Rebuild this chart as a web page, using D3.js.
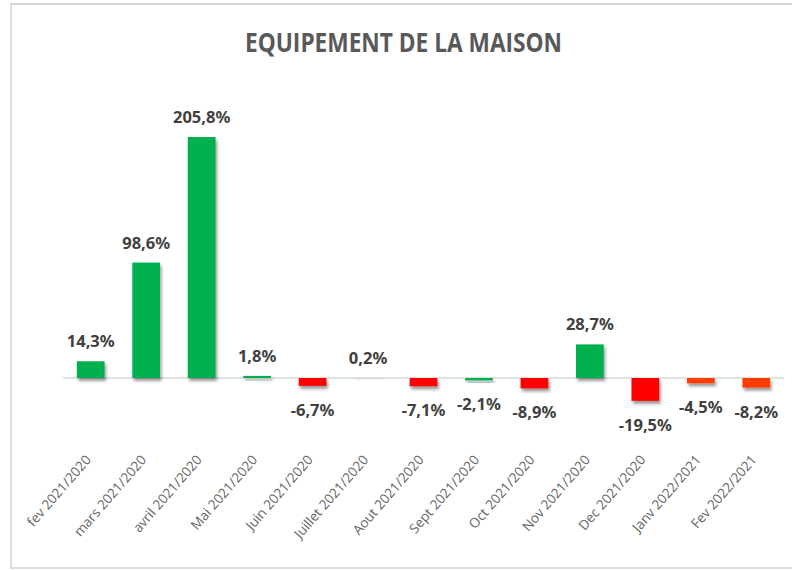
<!DOCTYPE html>
<html>
<head>
<meta charset="utf-8">
<script src="https://cdn.jsdelivr.net/npm/d3@7"></script>
<style>
html,body{margin:0;padding:0;background:#fff;}
svg{display:block;}
</style>
</head>
<body>
<script>
const categories = ["fev 2021/2020","mars 2021/2020","avril 2021/2020","Mai 2021/2020","Juin 2021/2020","Juillet 2021/2020","Aout 2021/2020","Sept 2021/2020","Oct 2021/2020","Nov 2021/2020","Dec 2021/2020","Janv 2022/2021","Fev 2022/2021"];
const values = [14.3, 98.6, 205.8, 1.8, -6.7, 0.2, -7.1, -2.1, -8.9, 28.7, -19.5, -4.5, -8.2];
const labels = ["14,3%","98,6%","205,8%","1,8%","-6,7%","0,2%","-7,1%","-2,1%","-8,9%","28,7%","-19,5%","-4,5%","-8,2%"];
const barColors = ["#00B050","#00B050","#00B050","#00B050","#FF0000","#D9D9D9","#FF0000","#00B050","#FF0000","#00B050","#FF0000","#FF3C00","#FF3C00"];
const title = "EQUIPEMENT DE LA MAISON";

const W = 792, H = 570;
const svg = d3.select("body").append("svg").attr("width", W).attr("height", H);

// frame
svg.append("rect").attr("x",0).attr("y",0).attr("width",W).attr("height",H).attr("fill","#fff");
svg.append("line").attr("x1",10).attr("x2",W).attr("y1",4).attr("y2",4).attr("stroke","#d4d4d4").attr("stroke-width",2);
svg.append("line").attr("x1",11).attr("x2",11).attr("y1",4).attr("y2",568).attr("stroke","#dedede").attr("stroke-width",2);
svg.append("line").attr("x1",10).attr("x2",W).attr("y1",568).attr("y2",568).attr("stroke","#dedede").attr("stroke-width",2);

const defs = svg.append("defs");
const f = defs.append("filter").attr("id","shadow").attr("x","-30%").attr("y","-100%").attr("width","160%").attr("height","300%");
f.append("feDropShadow").attr("dx",1.5).attr("dy",3).attr("stdDeviation",1.6).attr("flood-color","#000").attr("flood-opacity",0.4);

const x = d3.scaleBand().domain(categories).range([63, 784]).paddingInner(0.5).paddingOuter(0.25);
const y = d3.scaleLinear().domain([-60, 220]).range([378 + 60*241/205.8, 378 - 220*241/205.8]);

// title
svg.append("text")
  .attr("x", 403.5).attr("y", 52)
  .attr("text-anchor","middle")
  .attr("font-family","'Open Sans', sans-serif")
  .attr("font-weight","bold")
  .attr("font-size", 27)
  .attr("fill","#595959")
  .attr("textLength", 317)
  .attr("lengthAdjust","spacingAndGlyphs")
  .text(title);

// zero line
svg.append("line")
  .attr("x1", x.range()[0]).attr("x2", x.range()[1])
  .attr("y1", y(0)).attr("y2", y(0))
  .attr("stroke","#d9d9d9").attr("stroke-width",1.5);

// bars
svg.append("g").selectAll("rect").data(values).join("rect")
  .attr("x", (d,i) => x(categories[i]))
  .attr("width", x.bandwidth())
  .attr("y", d => y(Math.max(0,d)))
  .attr("height", d => Math.max(1, Math.abs(y(d) - y(0))))
  .attr("fill", (d,i) => barColors[i])
  .attr("filter","url(#shadow)");

// data labels
svg.append("g").selectAll("text").data(values).join("text")
  .attr("x", (d,i) => x(categories[i]) + x.bandwidth()/2)
  .attr("y", d => d >= 0 ? y(d) - 14 : y(d) + 30)
  .attr("text-anchor","middle")
  .attr("font-family","'Noto Sans', sans-serif")
  .attr("font-weight","bold")
  .attr("font-size", 16.5)
  .attr("fill","#404040")
  .text((d,i) => labels[i]);

// category axis labels
const axisY = y(-60) + 12;
svg.append("g").selectAll("text").data(categories).join("text")
  .attr("transform", d => `translate(${x(d) + x.bandwidth()/2 + 1},${axisY}) rotate(-49)`)
  .attr("text-anchor","end")
  .attr("font-family","'Open Sans', sans-serif")
  .attr("font-size", 13.5)
  .attr("fill","#666666")
  .text(d => d);
</script>
</body>
</html>
